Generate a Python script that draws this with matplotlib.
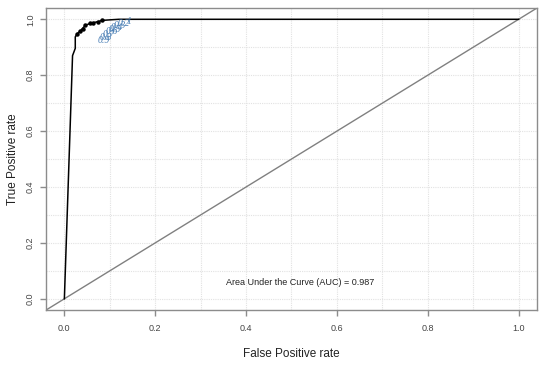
import matplotlib
matplotlib.use('Agg')
import matplotlib.pyplot as plt

# ROC curve points
fpr = [0.0, 0.018, 0.024, 0.024, 0.028, 0.035, 0.040, 0.046, 0.056, 0.064, 0.075, 0.083, 0.100, 0.120, 1.0]
tpr = [0.0, 0.870, 0.896, 0.937, 0.948, 0.958, 0.967, 0.978, 0.985, 0.988, 0.992, 0.996, 0.998, 1.0, 1.0]
marker_idx = [4, 5, 6, 7, 8, 9, 10, 11]

# cutoff labels printed near the curve
cut_labels = ['0.9', '0.8', '0.7', '0.6', '0.5', '0.4', '0.3', '0.2', '1']
cut_x = [0.086, 0.092, 0.098, 0.104, 0.110, 0.116, 0.122, 0.130, 0.142]
cut_y = [0.925, 0.935, 0.945, 0.955, 0.963, 0.971, 0.978, 0.985, 0.992]

auc_text = 'Area Under the Curve (AUC) = 0.987'
ticks = [0.0, 0.2, 0.4, 0.6, 0.8, 1.0]
grid_vals = [i / 10 for i in range(11)]

FRAME = '#8c8c8c'
LABEL_FONT = ['Liberation Sans Narrow', 'Liberation Sans', 'DejaVu Sans']

fig = plt.figure(figsize=(5.5, 3.69), dpi=100)
ax = fig.add_axes([0.084, 0.160, 0.892, 0.818])

for g in grid_vals:
    ax.axvline(g, color='#e2e2e2', lw=0.8, ls=(0, (1, 1)), zorder=0)
    ax.axhline(g, color='#e2e2e2', lw=0.8, ls=(0, (1, 1)), zorder=0)

ax.plot([-0.04, 1.04], [-0.04, 1.04], color='#808080', lw=1.0, zorder=1)
ax.plot(fpr, tpr, color='black', lw=1.1, zorder=2)
ax.plot([fpr[i] for i in marker_idx], [tpr[i] for i in marker_idx], 'o',
        color='black', ms=2.2, zorder=3)

for lab, x, y in zip(cut_labels, cut_x, cut_y):
    ax.text(x, y, lab, color='#4a7fb5', fontsize=7, ha='center', va='center',
            family='Liberation Serif', style='italic', zorder=4)

ax.text(0.52, 0.057, auc_text, fontsize=6.5, ha='center', va='center',
        color='#222222', family='Liberation Sans')

ax.set_xlim(-0.04, 1.04)
ax.set_ylim(-0.04, 1.04)
ax.set_xticks(ticks)
ax.set_yticks(ticks)
ax.set_xticklabels(['%.1f' % t for t in ticks], fontsize=6.5, color='#444444', family='Liberation Sans')
ax.set_yticklabels(['%.1f' % t for t in ticks], fontsize=6.5, color='#444444', family='Liberation Sans',
                   rotation=90, va='center')
ax.tick_params(axis='x', direction='out', length=4, color=FRAME, width=1.0, pad=6)
ax.tick_params(axis='y', direction='out', length=4, color=FRAME, width=1.0, pad=4)

for sp in ax.spines.values():
    sp.set_color(FRAME)
    sp.set_linewidth(1.0)

ax.set_xlabel('False Positive rate', fontsize=8.5, family=LABEL_FONT, color='#222222', labelpad=11)
ax.set_ylabel('True Positive rate', fontsize=8.5, family=LABEL_FONT, color='#222222', labelpad=5)

fig.savefig('out.png', dpi=100)
